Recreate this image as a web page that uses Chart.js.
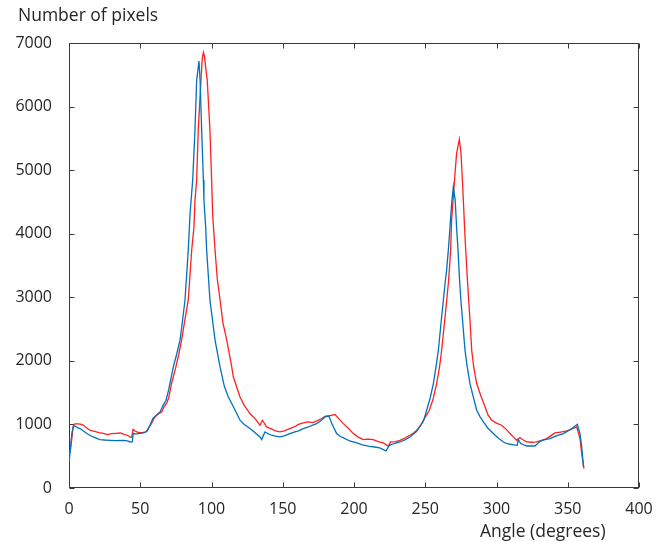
<!DOCTYPE html>
<html>
<head>
<meta charset="utf-8">
<script src="https://cdn.jsdelivr.net/npm/chart.js@4/dist/chart.umd.min.js"></script>
<style>
  html, body { margin: 0; padding: 0; background: #fff; }
  canvas { display: block; }
</style>
</head>
<body>
<canvas id="angleChart" width="658" height="542"></canvas>
<script>
// angle tick labels / count tick labels
const xTicks = [0, 50, 100, 150, 200, 250, 300, 350, 400];
const yTicks = [0, 1000, 2000, 3000, 4000, 5000, 6000, 7000];

// red series
const redAngles = [0, 1, 2, 3, 4, 6, 8, 10, 12, 15, 18, 21, 24, 27, 30, 33, 36, 39, 41, 43, 44, 45, 46, 48, 50, 52, 54, 56, 58, 60, 61.5, 63, 65, 67, 68.5, 70, 72, 75, 77, 79, 81, 83.7, 86.1, 87.7, 88.4, 89.6, 90.7, 92.6, 93.5, 94.3, 95, 96, 97, 98.9, 100.1, 100.8, 102.5, 104, 106, 108, 110.7, 114.2, 115.3, 120, 123, 127, 131, 134, 135.7, 138.7, 142, 145, 148, 151, 155, 158, 161, 164.4, 168, 171, 174, 177, 180, 183, 186.7, 189, 192.5, 196, 199.5, 203, 206.5, 210, 213.5, 217, 220.6, 224, 225.7, 229, 232.3, 236, 239.3, 242, 244, 246.5, 248.7, 251, 252.9, 255.5, 258, 260, 261.5, 263.9, 266.2, 266.9, 267.8, 268.5, 270.9, 272, 273.9, 275.1, 276.3, 277.9, 279, 280.2, 281.4, 282.6, 284, 286.1, 289, 292, 294, 296.6, 300, 303.6, 306.5, 309.5, 312, 314.2, 316.5, 318.5, 321.2, 324.5, 328.2, 331.5, 335.2, 338, 341, 345, 349.3, 353, 356.3, 358.6, 359.8, 361.4];
const redCounts = [520, 600, 780, 980, 1010, 1010, 1005, 990, 950, 905, 890, 870, 860, 840, 855, 860, 865, 840, 830, 800, 797, 923, 900, 880, 870, 875, 882, 950, 1018, 1110, 1144, 1170, 1196, 1290, 1333, 1420, 1648, 1904, 2100, 2325, 2600, 2958, 3741, 4108, 4525, 4843, 5630, 6417, 6750, 6853, 6800, 6600, 6417, 5630, 4843, 4300, 3741, 3300, 2958, 2600, 2325, 1904, 1750, 1432, 1300, 1171, 1080, 987, 1066, 960, 930, 900, 882, 900, 935, 960, 1000, 1024, 1040, 1030, 1055, 1090, 1129, 1140, 1155, 1100, 1013, 940, 856, 800, 761, 770, 761, 730, 709, 656, 724, 730, 750, 790, 830, 870, 908, 980, 1066, 1150, 1223, 1400, 1643, 1900, 2167, 2692, 3217, 3427, 3741, 4214, 4949, 5264, 5484, 5264, 4738, 3951, 3500, 3050, 2640, 2167, 1900, 1643, 1450, 1275, 1150, 1066, 1020, 987, 930, 856, 800, 750, 793, 760, 724, 720, 724, 750, 777, 820, 866, 880, 897, 930, 960, 777, 541, 305];

// blue series
const blueAngles = [0, 1, 2, 3, 4, 6, 7.7, 10, 13, 17, 19.5, 21.8, 25, 29, 33, 38, 41, 43, 44.5, 45, 47, 50, 53, 55, 57, 59, 61.5, 64, 66, 68.1, 70, 73.2, 75.5, 77.9, 79.5, 81.4, 83.7, 84.9, 86.8, 88.4, 89.6, 91.2, 92, 93.1, 94.3, 94.7, 95.9, 96.6, 98.9, 102.5, 106, 109, 111.8, 113, 116, 120, 123, 127, 130, 134, 135.2, 137.5, 140, 142.2, 145, 148, 151, 155, 158, 161, 164.4, 168, 171, 173.8, 177, 179.6, 182.5, 184.4, 187.8, 190.5, 193.7, 197, 201.9, 206, 211, 214.5, 218, 222.5, 224.8, 228, 232.3, 236, 239.3, 244, 248.7, 251, 253.5, 255.7, 257.5, 259.2, 261.5, 263.9, 265, 266.2, 266.9, 268.5, 269.7, 271, 272, 273, 274, 275, 277.9, 279.5, 281.4, 283.5, 286.1, 288.5, 290.8, 294, 297.8, 301, 304.8, 307, 309.5, 312, 314.6, 315.3, 317, 321.2, 324, 327, 330.5, 334, 337.5, 342, 346.9, 352, 356.7, 358.6, 359.8, 361];
const blueCounts = [390, 620, 860, 960, 975, 950, 935, 900, 850, 803, 780, 761, 755, 750, 745, 750, 740, 724, 730, 856, 850, 860, 870, 900, 1000, 1100, 1150, 1200, 1300, 1380, 1550, 1904, 2100, 2325, 2600, 2958, 3741, 4300, 4843, 5630, 6417, 6716, 6417, 5630, 4843, 4525, 4108, 3741, 2958, 2325, 1904, 1600, 1432, 1380, 1250, 1066, 1000, 935, 880, 803, 761, 882, 850, 830, 815, 803, 820, 856, 880, 900, 935, 960, 990, 1013, 1060, 1118, 1129, 1013, 856, 810, 777, 740, 709, 680, 656, 645, 630, 583, 672, 700, 724, 760, 803, 890, 1050, 1223, 1420, 1643, 1900, 2167, 2692, 3217, 3427, 3741, 3951, 4476, 4738, 4528, 4100, 3741, 3300, 2958, 2167, 1900, 1643, 1450, 1223, 1120, 1039, 940, 856, 790, 724, 700, 688, 680, 672, 761, 700, 661, 661, 661, 735, 760, 777, 820, 856, 920, 1003, 856, 646, 331];

const axisColor = '#3a3a3a';
const textColor = '#262626';
const fontFamily = '"Open Sans", sans-serif';

const toPoints = (xs, ys) => xs.map((a, i) => ({ x: a, y: ys[i] }));

// box round the plot with inward ticks, plus the two free-standing titles
const framePlugin = {
  id: 'frame',
  beforeDatasetsDraw(chart) {
    const { ctx, chartArea: a, scales: { x, y } } = chart;
    const L = Math.round(a.left) + 0.5, R = Math.round(a.right) - 0.5;
    const T = Math.round(a.top) + 0.5, B = Math.round(a.bottom) - 0.5;
    const len = 5;
    ctx.save();
    ctx.strokeStyle = axisColor;
    ctx.lineWidth = 1;
    ctx.strokeRect(L, T, R - L, B - T);
    ctx.beginPath();
    xTicks.forEach(v => {
      const px = Math.round(x.getPixelForValue(v)) + 0.5;
      ctx.moveTo(px, B); ctx.lineTo(px, B - len);
      ctx.moveTo(px, T); ctx.lineTo(px, T + len);
    });
    yTicks.forEach(v => {
      const py = Math.round(y.getPixelForValue(v)) + 0.5;
      ctx.moveTo(L, py); ctx.lineTo(L + len, py);
      ctx.moveTo(R, py); ctx.lineTo(R - len, py);
    });
    ctx.stroke();
    ctx.restore();
  },
  afterDraw(chart) {
    const { ctx, chartArea: a } = chart;
    ctx.save();
    ctx.fillStyle = textColor;
    ctx.font = '17.5px ' + fontFamily;
    ctx.textBaseline = 'alphabetic';
    ctx.textAlign = 'left';
    ctx.fillText('Number of pixels', a.left - 51, 21);
    ctx.fillText('Angle (degrees)', a.left + 411, 537);
    ctx.restore();
  }
};

new Chart(document.getElementById('angleChart'), {
  type: 'line',
  data: {
    datasets: [
      {
        label: 'Blue',
        data: toPoints(blueAngles, blueCounts),
        borderColor: '#0072BD',
        borderWidth: 1.3,
        pointRadius: 0,
        tension: 0
      },
      {
        label: 'Red',
        data: toPoints(redAngles, redCounts),
        borderColor: '#FF2020',
        borderWidth: 1.3,
        pointRadius: 0,
        tension: 0
      }
    ]
  },
  options: {
    responsive: false,
    animation: false,
    layout: { padding: { top: 43, right: 19, left: 0, bottom: 0 } },
    plugins: {
      legend: { display: false },
      tooltip: { enabled: false }
    },
    scales: {
      x: {
        type: 'linear',
        min: 0,
        max: 400,
        afterBuildTicks: s => { s.ticks = xTicks.map(v => ({ value: v })); },
        afterFit: s => { s.height = 54; },
        grid: { display: false },
        border: { display: false },
        ticks: { color: textColor, font: { family: fontFamily, size: 16 }, padding: 4, maxRotation: 0, callback: v => String(v) }
      },
      y: {
        type: 'linear',
        min: 0,
        max: 7000,
        afterBuildTicks: s => { s.ticks = yTicks.map(v => ({ value: v })); },
        afterFit: s => { s.width = 69; },
        grid: { display: false },
        border: { display: false },
        ticks: { color: textColor, font: { family: fontFamily, size: 16 }, padding: 9, callback: v => String(v) }
      }
    }
  },
  plugins: [framePlugin]
});
</script>
</body>
</html>
